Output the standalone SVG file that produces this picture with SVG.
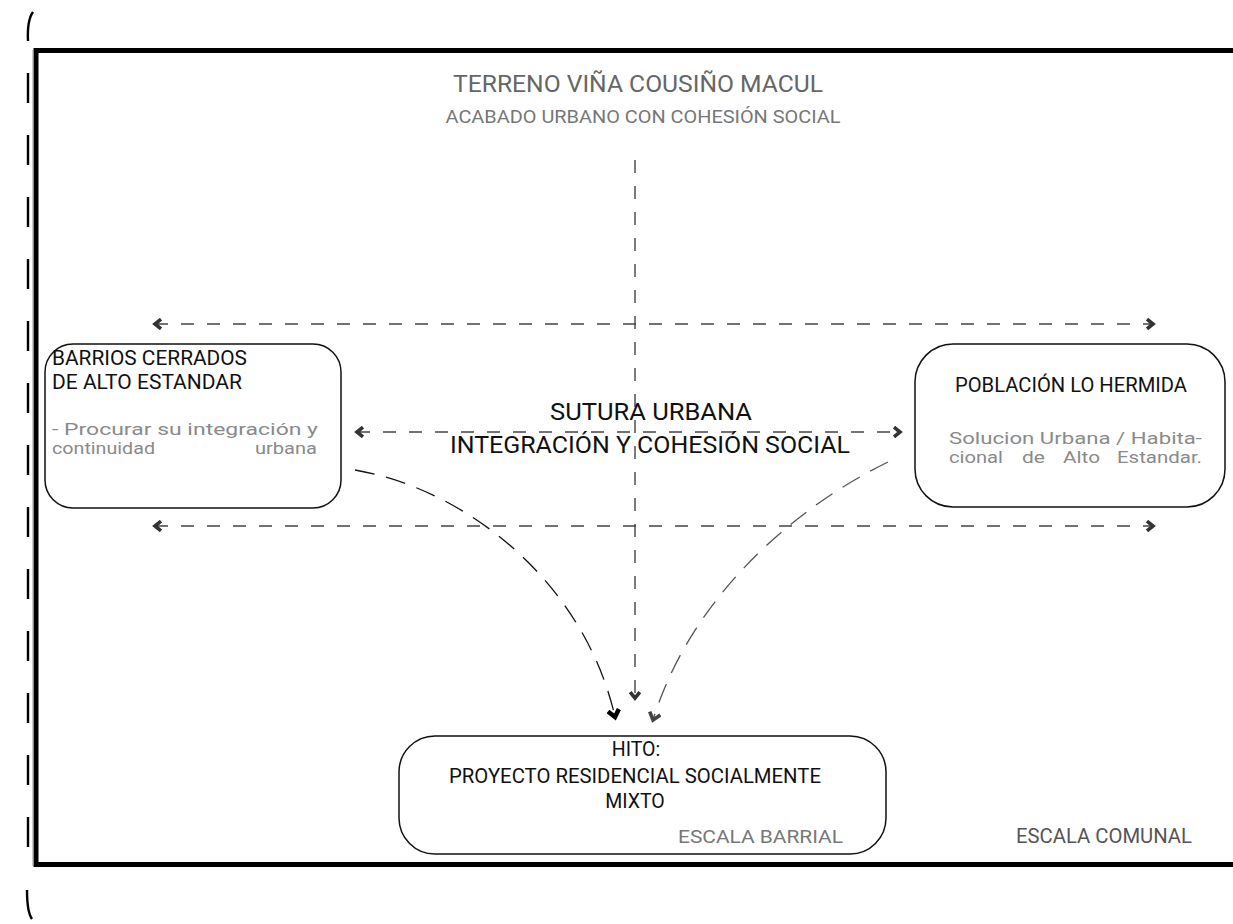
<svg xmlns="http://www.w3.org/2000/svg" width="1233" height="924" viewBox="0 0 1233 924">
<style>
.t{font-family:Roboto,"Liberation Sans",sans-serif}
.blk{fill:#111}
.gry{fill:#8a8a8a}
.box{fill:#fff;stroke:#111;stroke-width:1.5}
.dash{fill:none;stroke:#444;stroke-width:1.4;stroke-dasharray:13 13}
.curve{fill:none;stroke-width:1.3;stroke-dasharray:20 12}
</style>
<defs>
<marker id="chev" viewBox="0 0 10 10" refX="7" refY="5" markerWidth="12" markerHeight="12" markerUnits="userSpaceOnUse" orient="auto-start-reverse">
<path d="M2,1 L7,5 L2,9" fill="none" stroke="#333" stroke-width="3"/>
</marker>
<marker id="chevk" viewBox="0 0 10 10" refX="7" refY="5" markerWidth="14" markerHeight="14" markerUnits="userSpaceOnUse" orient="auto">
<path d="M2,1 L7,5 L2,9" fill="none" stroke="#000" stroke-width="3.2"/>
</marker>
<marker id="chevg" viewBox="0 0 10 10" refX="7" refY="5" markerWidth="14" markerHeight="14" markerUnits="userSpaceOnUse" orient="auto">
<path d="M2,1 L7,5 L2,9" fill="none" stroke="#444" stroke-width="2.6"/>
</marker>
</defs>
<rect width="1233" height="924" fill="#fff"/>
<g id="frame">
<path d="M1233,50.5 H36 V864.5 H1233" fill="none" stroke="#000" stroke-width="5"/>
<line x1="33" y1="50" x2="33" y2="866" stroke="#999" stroke-width="1"/>
<line x1="28" y1="73" x2="28" y2="860" stroke="#000" stroke-width="2.4" stroke-dasharray="30 32"/>
<path d="M33,12 Q27,20 28,41" fill="none" stroke="#000" stroke-width="2.4"/>
<path d="M27,890 Q27,912 32,919" fill="none" stroke="#000" stroke-width="2.4"/>
</g>
<g id="title">
<text class="t" x="638" y="92" text-anchor="middle" font-size="23" fill="#666" textLength="370" lengthAdjust="spacingAndGlyphs">TERRENO VIÑA COUSIÑO MACUL</text>
<text class="t" x="643" y="123" text-anchor="middle" font-size="18.5" fill="#777" textLength="395" lengthAdjust="spacingAndGlyphs">ACABADO URBANO CON COHESIÓN SOCIAL</text>
</g>
<g id="connectors">
<line class="dash" x1="635" y1="160" x2="635" y2="698" marker-end="url(#chev)"/>
<line class="dash" x1="155" y1="324" x2="1153" y2="324" marker-start="url(#chev)" marker-end="url(#chev)"/>
<line class="dash" x1="357" y1="432" x2="900" y2="432" marker-start="url(#chev)" marker-end="url(#chev)"/>
<line class="dash" x1="155" y1="526" x2="1153" y2="526" marker-start="url(#chev)" marker-end="url(#chev)"/>
<path class="curve" d="M355,470 C470,490 585,585 615,717" stroke="#111" marker-end="url(#chevk)"/>
<path class="curve" d="M888,462 C790,510 690,600 653,720" stroke="#555" marker-end="url(#chevg)"/>
</g>
<g id="center-label">
<text class="t blk" x="651" y="420" text-anchor="middle" font-size="24" textLength="202" lengthAdjust="spacingAndGlyphs">SUTURA URBANA</text>
<text class="t blk" x="650" y="453" text-anchor="middle" font-size="24" textLength="400" lengthAdjust="spacingAndGlyphs">INTEGRACIÓN Y COHESIÓN SOCIAL</text>
</g>
<g id="node-barrios">
<rect class="box" x="45" y="344" width="296" height="164" rx="28"/>
<text class="t blk" x="52" y="365" font-size="20" textLength="195" lengthAdjust="spacingAndGlyphs">BARRIOS CERRADOS</text>
<text class="t blk" x="52" y="389" font-size="20" textLength="190" lengthAdjust="spacingAndGlyphs">DE ALTO ESTANDAR</text>
<text class="t gry" x="52" y="435" font-size="17" textLength="266" lengthAdjust="spacingAndGlyphs">- Procurar su integración y</text>
<text class="t gry" x="52" y="454" font-size="17" textLength="103" lengthAdjust="spacingAndGlyphs">continuidad</text>
<text class="t gry" x="317" y="454" font-size="17" text-anchor="end" textLength="62" lengthAdjust="spacingAndGlyphs">urbana</text>
</g>
<g id="node-hermida">
<rect class="box" x="915" y="344" width="310" height="163" rx="38"/>
<text class="t blk" x="1071" y="392" text-anchor="middle" font-size="19.5" textLength="232" lengthAdjust="spacingAndGlyphs">POBLACIÓN LO HERMIDA</text>
<text class="t gry" x="949" y="444" font-size="17" textLength="253" lengthAdjust="spacingAndGlyphs">Solucion Urbana / Habita-</text>
<text class="t gry" x="949" y="463" font-size="17" textLength="54" lengthAdjust="spacingAndGlyphs">cional</text>
<text class="t gry" x="1022" y="463" font-size="17" textLength="23" lengthAdjust="spacingAndGlyphs">de</text>
<text class="t gry" x="1063" y="463" font-size="17" textLength="37" lengthAdjust="spacingAndGlyphs">Alto</text>
<text class="t gry" x="1202" y="463" font-size="17" text-anchor="end" textLength="85" lengthAdjust="spacingAndGlyphs">Estandar.</text>
</g>
<g id="node-hito">
<rect class="box" x="399" y="736" width="487" height="118" rx="36" stroke-width="2"/>
<text class="t blk" x="636" y="756" text-anchor="middle" font-size="19.5">HITO:</text>
<text class="t blk" x="635" y="783" text-anchor="middle" font-size="19.5" textLength="372" lengthAdjust="spacingAndGlyphs">PROYECTO RESIDENCIAL SOCIALMENTE</text>
<text class="t blk" x="635" y="808" text-anchor="middle" font-size="19.5">MIXTO</text>
<text class="t" x="843" y="843" text-anchor="end" font-size="19" fill="#777" textLength="165" lengthAdjust="spacingAndGlyphs">ESCALA BARRIAL</text>
</g>
<g id="scale-label">
<text class="t" x="1192" y="843" text-anchor="end" font-size="20" fill="#555" textLength="176" lengthAdjust="spacingAndGlyphs">ESCALA COMUNAL</text>
</g>
</svg>
